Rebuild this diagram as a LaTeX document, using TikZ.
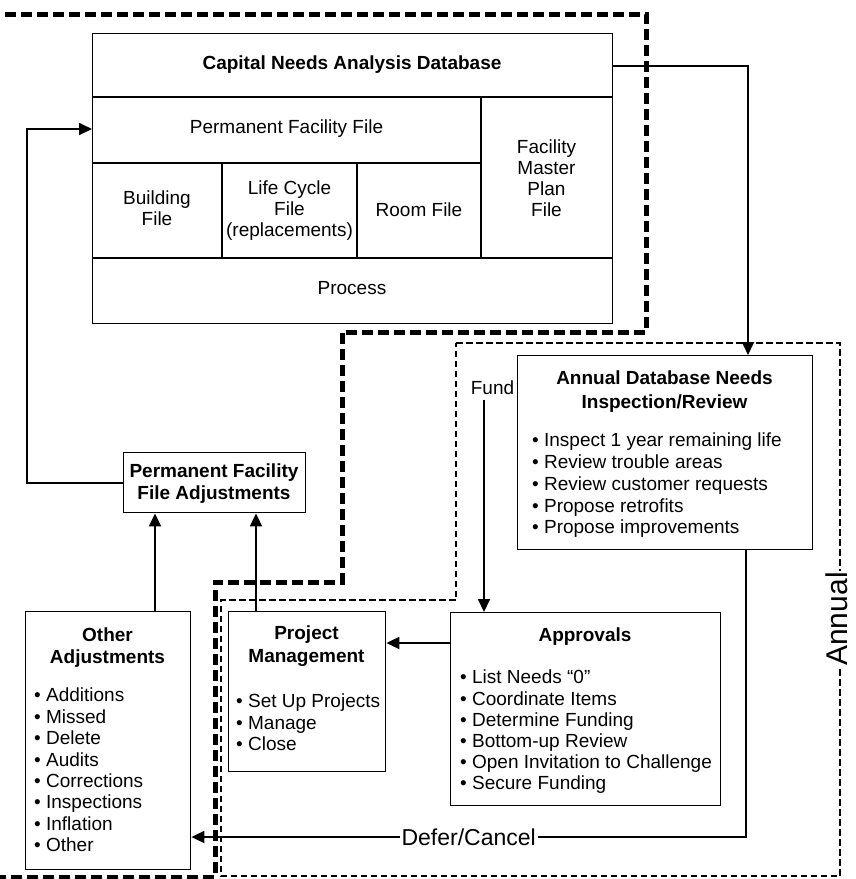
\documentclass[tikz,border=0pt]{standalone}
\usepackage{fontspec}
\setmainfont{Liberation Sans}
\usetikzlibrary{arrows.meta}
\begin{document}
\begin{tikzpicture}[x=1pt,y=-1pt,
  box/.style={draw, line width=1.4pt, inner sep=0pt, anchor=north west},
  cell/.style={line width=1.4pt},
  conn/.style={line width=1.8pt},
  arr/.style={conn,-{Triangle[length=13pt,width=12pt]}},
  body/.style={font=\fontsize{19}{21}\selectfont, inner sep=0pt, align=center},
  list/.style={inner sep=0pt, anchor=north west, align=left},
  ttl/.style={inner sep=0pt, anchor=north, align=center},
  thickdash/.style={line width=5pt, dash pattern=on 11pt off 5pt},
  thindash/.style={line width=2.2pt, dash pattern=on 6.5pt off 3.5pt}]
\useasboundingbox (0,0) rectangle (855,879);

% helper coordinates
\coordinate (colA) at (155,0);
\coordinate (colB) at (256,0);
\coordinate (colD) at (746,0);
\coordinate (colE) at (748,0);
\coordinate (rowA) at (0,643);
\coordinate (rowB) at (0,837);
\coordinate (rowC) at (0,66);
\coordinate (rowD) at (0,129);
\coordinate (leftx) at (27,0);
\coordinate (fundend) at (484,400);

% dashed regions
\draw[thindash] (456,343) -- (840,343) -- (840,876) -- (221,876) -- (221,600) -- (456,600) -- cycle;
\draw[thickdash] (5,14) -- (646,14) -- (646,332) -- (342,332) -- (342,582) -- (215,582) -- (215,877) -- (0,877);

% main database box
\node[box, minimum width=520pt, minimum height=290pt] (db) at (92,33) {};
\draw[cell] (92,97) -- (612,97);
\draw[cell] (92,163) -- (481,163);
\draw[cell] (92,258) -- (612,258);
\draw[cell] (481,97) -- (481,258);
\draw[cell] (222,163) -- (222,258);
\draw[cell] (357,163) -- (357,258);
\node[body, font=\bfseries\fontsize{19}{21}\selectfont] (dbt) at (352,65) {Capital Needs Analysis Database};
\node[body] (pff) at (286.5,129) {Permanent Facility File};
\node[body] (bf) at (157,208) {Building\\File};
\node[body] (lc) at (289.5,211) {Life Cycle\\File\\(replacements)};
\node[body] (rf) at (419,210) {Room File};
\node[body] (fmp) at (546.5,178) {Facility\\Master\\Plan\\File};
\node[body] (proc) at (352,288) {Process};

% annual database needs box
\node[box, minimum width=295pt, minimum height=194pt] (ann) at (517,355) {};
\node[ttl, font=\bfseries\fontsize{19}{24}\selectfont] (annt) at (664.5,371) {Annual Database Needs\\Inspection/Review};
\node[list, font=\fontsize{19}{21.75}\selectfont] (annb) at (532,433) {• Inspect 1 year remaining life\\• Review trouble areas\\• Review customer requests\\• Propose retrofits\\• Propose improvements};

% approvals box
\node[box, minimum width=270pt, minimum height=193pt] (app) at (450,612) {};
\node[ttl, font=\bfseries\fontsize{19}{21}\selectfont] (appt) at (585,628) {Approvals};
\node[list, font=\fontsize{19}{21.2}\selectfont] (appb) at (460,670) {• List Needs “0”\\• Coordinate Items\\• Determine Funding\\• Bottom-up Review\\• Open Invitation to Challenge\\• Secure Funding};

% project management box
\node[box, minimum width=157pt, minimum height=160pt] (pm) at (228,611) {};
\node[ttl, font=\bfseries\fontsize{19}{23}\selectfont] (pmt) at (306.5,626) {Project\\Management};
\node[list, font=\fontsize{19}{21.5}\selectfont] (pmb) at (236,694) {• Set Up Projects\\• Manage\\• Close};

% other adjustments box
\node[box, minimum width=165pt, minimum height=258pt] (oth) at (25,611) {};
\node[ttl, font=\bfseries\fontsize{19}{21.5}\selectfont] (otht) at (107.5,628) {Other\\Adjustments};
\node[list, font=\fontsize{19}{21.4}\selectfont] (othb) at (34,688) {• Additions\\• Missed\\• Delete\\• Audits\\• Corrections\\• Inspections\\• Inflation\\• Other};

% permanent facility file adjustments box
\node[box, minimum width=182pt, minimum height=60pt] (pfa) at (123,452) {};
\node[ttl, font=\bfseries\fontsize{19}{22}\selectfont] (pfat) at (214,464) {Permanent Facility\\File Adjustments};

% fund label
\node[body] (fund) at (492.5,388) {Fund};

% connectors
\draw[arr] (db.east |- rowC) -| (ann.north -| colE);
\draw[arr] (pfa.west) -| (leftx |- rowD) -- (db.west |- rowD);
\draw[arr] (oth.north -| colA) -- (pfa.south -| colA);
\draw[arr] (pm.north -| colB) -- (pfa.south -| colB);
\draw[arr] (app.west |- rowA) -- (pm.east |- rowA);
\draw[arr] (fundend) -- (app.north -| fundend);
\draw[arr] (ann.south -| colD) -- (colD |- rowB) -- node[fill=white, inner sep=2pt, font=\fontsize{23}{23}\selectfont] (defer) {Defer/Cancel} (oth.east |- rowB);

% annual label
\node[rotate=90, fill=white, inner sep=1pt, font=\fontsize{30}{30}\selectfont] (annual) at (837,619) {Annual};
\end{tikzpicture}
\end{document}
